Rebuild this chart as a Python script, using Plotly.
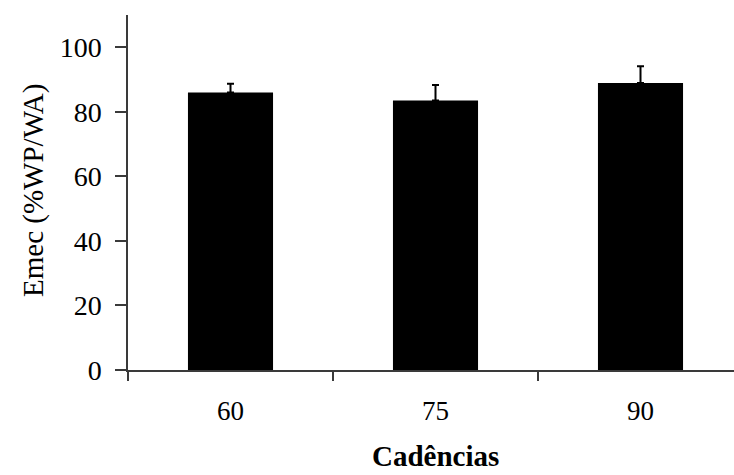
import plotly.graph_objects as go

# Mechanical efficiency by pedalling cadence (mean + SD)
cadences = ["60", "75", "90"]
emec_mean = [86.0, 83.5, 88.9]
emec_sd = [2.7, 4.8, 5.2]

y_ticks = [0, 20, 40, 60, 80, 100]

W, H = 734, 475
m_l, m_r, m_t, m_b = 128, 0, 15, 105
plot_w = W - m_l - m_r
plot_h = H - m_t - m_b

serif = "Liberation Serif, Times New Roman, serif"
axis_col = "#3a3a3a"

fig = go.Figure(
    go.Bar(
        x=cadences,
        y=emec_mean,
        width=0.415,
        marker=dict(color="black", line=dict(width=0)),
        error_y=dict(
            type="data",
            array=emec_sd,
            symmetric=False,
            arrayminus=[0, 0, 0],
            color="black",
            thickness=2,
            width=3.5,
        ),
    )
)

# category slot width is 205 px; the axis runs off the right edge
x_right = -0.5 + plot_w / 205.0

fig.update_layout(
    width=W,
    height=H,
    margin=dict(l=m_l, r=m_r, t=m_t, b=m_b),
    paper_bgcolor="white",
    plot_bgcolor="white",
    showlegend=False,
    font=dict(family=serif, color="black", size=27),
    xaxis=dict(
        type="category",
        range=[-0.5, x_right],
        showline=True,
        linecolor=axis_col,
        linewidth=1.5,
        ticks="outside",
        tickson="boundaries",
        ticklen=9,
        tickwidth=1.5,
        tickcolor=axis_col,
        showgrid=False,
        zeroline=False,
        tickfont=dict(family=serif, size=27, color="black"),
        ticklabelstandoff=16,
    ),
    yaxis=dict(
        range=[0, 110],
        tickvals=y_ticks,
        ticktext=[str(v) for v in y_ticks],
        showline=True,
        linecolor=axis_col,
        linewidth=1.5,
        ticks="outside",
        ticklen=11,
        tickwidth=1.5,
        tickcolor=axis_col,
        showgrid=False,
        zeroline=False,
        tickfont=dict(family=serif, size=28, color="black"),
        ticklabelstandoff=8,
    ),
    annotations=[
        dict(
            text="Emec (%WP/WA)",
            textangle=-90,
            xref="paper",
            yref="paper",
            x=(33 - m_l) / plot_w,
            y=(370 - 191) / plot_h,
            xanchor="center",
            yanchor="middle",
            showarrow=False,
            font=dict(family=serif, size=29, color="black"),
        ),
        dict(
            text="<b>Cadências</b>",
            xref="paper",
            yref="paper",
            x=(435 - m_l) / plot_w,
            y=-(456 - 370) / plot_h,
            xanchor="center",
            yanchor="middle",
            showarrow=False,
            font=dict(family=serif, size=29, color="black"),
        ),
    ],
)

fig.write_html("out.html")
